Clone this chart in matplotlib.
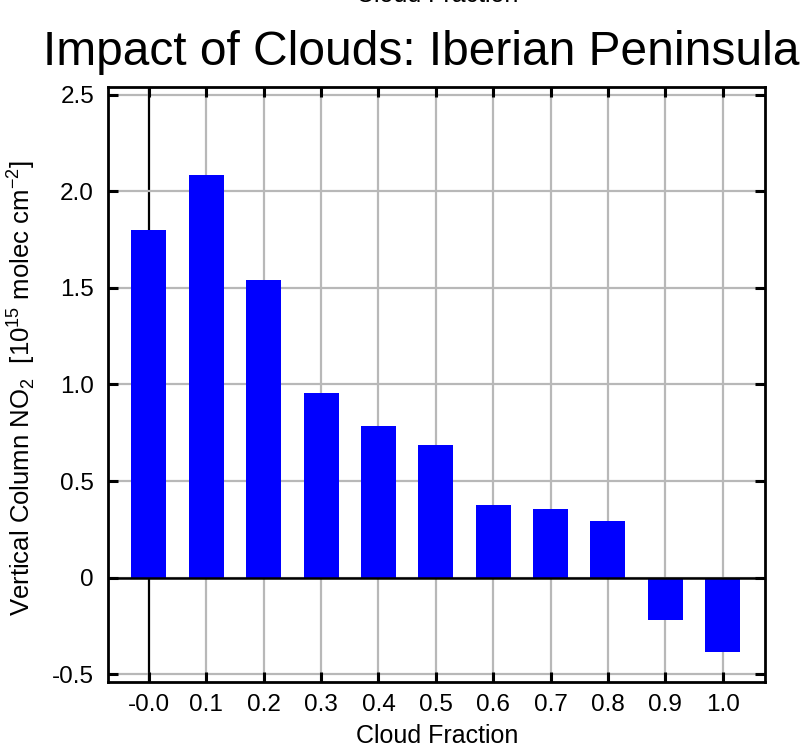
import matplotlib
matplotlib.use("Agg")
import matplotlib.pyplot as plt

plt.rcParams['font.family'] = ['Liberation Sans', 'DejaVu Sans']
plt.rcParams['mathtext.fontset'] = 'custom'
plt.rcParams['mathtext.rm'] = 'Liberation Sans'

# cloud fraction bins and mean NO2 column difference
cloud_frac = [0.0, 0.1, 0.2, 0.3, 0.4, 0.5, 0.6, 0.7, 0.8, 0.9, 1.0]
tick_labels = ['-0.0', '0.1', '0.2', '0.3', '0.4', '0.5', '0.6', '0.7', '0.8', '0.9', '1.0']
no2_vc = [1.80, 2.087, 1.54, 0.955, 0.785, 0.687, 0.376, 0.353, 0.294, -0.222, -0.386]
y_ticks = [-0.5, 0, 0.5, 1.0, 1.5, 2.0, 2.5]
y_labels = ['-0.5', '0', '0.5', '1.0', '1.5', '2.0', '2.5']

fig = plt.figure(figsize=(8.09, 7.46), dpi=100)
ax = fig.add_axes([0.1335, 0.0858, 0.8121, 0.7976])

ax.set_xlim(-0.0714, 1.0737)
ax.set_ylim(-0.541, 2.541)

# grid lines
for x in cloud_frac:
    ax.axvline(x, color='black' if x == 0 else '#b8b8b8', lw=1.6, zorder=1)
for y in y_ticks:
    ax.axhline(y, color='#b8b8b8', lw=1.6, zorder=1)

ax.bar(cloud_frac, no2_vc, width=0.061, color='#0000ff', zorder=2)
ax.axhline(0, color='black', lw=1.8, zorder=3)

ax.set_xticks(cloud_frac)
ax.set_xticklabels(tick_labels)
ax.set_yticks(y_ticks)
ax.set_yticklabels(y_labels)
ax.tick_params(direction='in', length=7, width=2.2, labelsize=17.5,
               top=True, right=True)
ax.tick_params(axis='x', pad=9)
ax.tick_params(axis='y', pad=10)
for s in ax.spines.values():
    s.set_linewidth(2.0)
    s.set_zorder(4)

fig.text(0.54, 0.004, 'Cloud Fraction', fontsize=18, ha='center', va='baseline')
fig.text(0.025, 0.48, r'Vertical Column NO$_2$  [10$^{15}$ molec cm$^{-2}$]',
         fontsize=18.5, rotation=90, ha='center', va='center')

fig.text(0.521, 0.9129, 'Impact of Clouds: Iberian Peninsula', fontsize=34.5,
         ha='center', va='baseline')
# secondary axis label sitting just off the top edge
fig.text(0.54, 0.997, 'Cloud Fraction', fontsize=18, ha='center', va='baseline')

fig.savefig('out.png', dpi=100)
